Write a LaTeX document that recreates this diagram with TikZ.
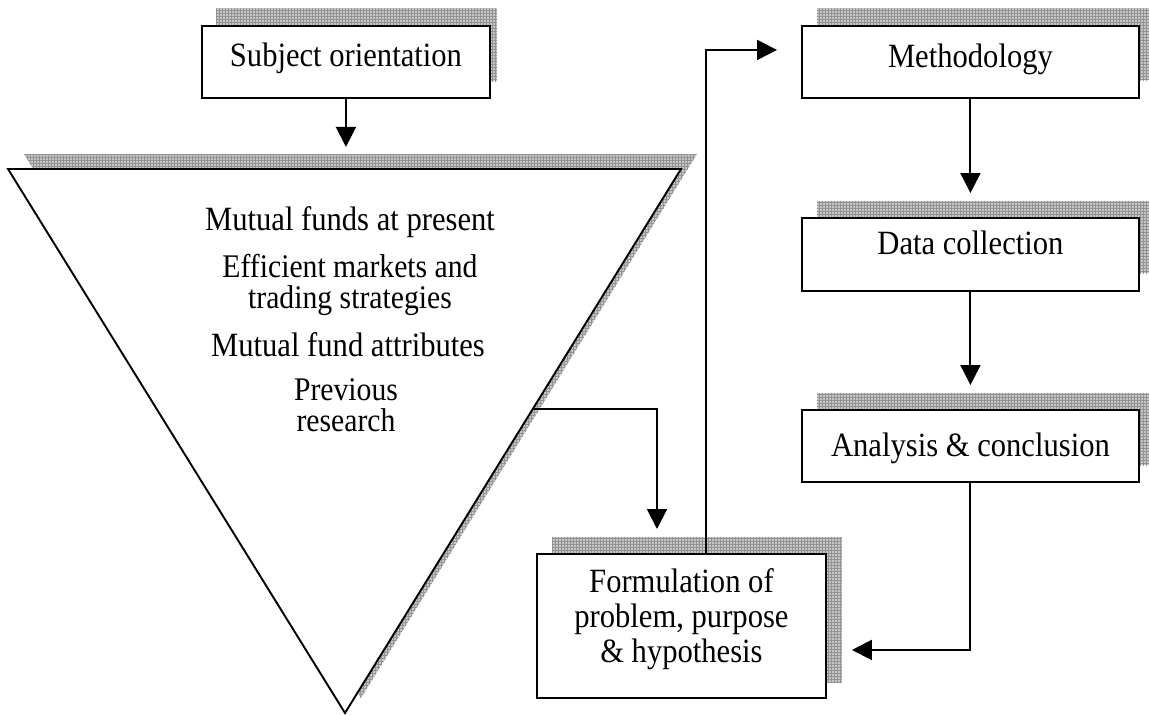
\documentclass[tikz,border=0pt]{standalone}
\usepackage{fontspec}
\setmainfont{Liberation Serif}[FakeStretch=0.9]
\usetikzlibrary{arrows.meta,calc,patterns}
\begin{document}
\begin{tikzpicture}[x=1pt,y=-1pt,
  shadowfill/.style={draw=none, fill=gray!45, postaction={pattern=grid, pattern color=gray!85}},
  box/.style={draw, line width=1.9pt, fill=white, inner xsep=0pt, inner ysep=0pt, anchor=north west, font=\fontsize{34}{35}\selectfont},
  txt/.style={anchor=base, inner sep=0pt, font=\fontsize{34}{35}\selectfont},
  txtpair/.style={anchor=center, inner sep=0pt, align=center, font=\fontsize{33}{31}\selectfont},
  conn/.style={line width=2pt},
  arr/.style={conn, -{Triangle[width=20pt,length=20pt]}}]
\useasboundingbox (0,0) rectangle (1149,715);
% shadows
\fill[shadowfill] (216,8) rectangle (497,81);
\fill[shadowfill] (817,8) rectangle (1149,80);
\fill[shadowfill] (817,201) rectangle (1149,273);
\fill[shadowfill] (817,393) rectangle (1149,465);
\fill[shadowfill] (552,537) rectangle (842,682);
\fill[shadowfill] (24,154) -- (697,154) -- (361,698) -- cycle;
% triangle
\coordinate (tl) at (8,169);
\coordinate (tr) at (681,169);
\coordinate (ap) at (345,713);
\draw[line width=1.9pt, fill=white, line join=miter] (tl) -- (tr) -- (ap) -- cycle;
\node[txt] (t1) at (350,230) {Mutual funds at present};
\node[txtpair] (t2) at (350,285) {Efficient markets and\\trading strategies};
\node[txt] (t4) at (348,356) {Mutual fund attributes};
\node[txtpair] (t5) at (346,405) {Previous\\research};
% boxes
\node[box, minimum width=288pt, text height=41pt, text depth=31pt] (subj) at (201,25) {Subject orientation};
\node[box, minimum width=337pt, text height=42pt, text depth=30pt] (meth) at (801,25) {Methodology};
\node[box, minimum width=337pt, text height=37pt, text depth=36pt] (data) at (801,217) {Data collection};
\node[box, minimum width=337pt, text height=47pt, text depth=25pt] (ana) at (801,409) {Analysis \& conclusion};
\node[box, minimum width=289pt, minimum height=144pt, align=center] (form) at (536,553) {Formulation of\\problem, purpose\\\& hypothesis\rule[-20pt]{0pt}{20pt}};
% connectors
\coordinate (triin) at ($(subj.south)+(0,48)$);
\coordinate (tout) at ($(tr)!0.4412!(ap)$);
\draw[arr] (subj.south) -- (triin);
\draw[arr] (tout) -| ($(form.north west)+(121,-24)$);
\draw[arr] ($(form.north)+(24.5,0)$) |- ($(meth.west)+(-24,-12)$);
\draw[arr] (meth.south) -- ($(data.north)+(0,-24)$);
\draw[arr] (data.south) -- ($(ana.north)+(0,-24)$);
\draw[arr] (ana.south) |- ($(form.east)+(25,24)$);
\end{tikzpicture}
\end{document}
